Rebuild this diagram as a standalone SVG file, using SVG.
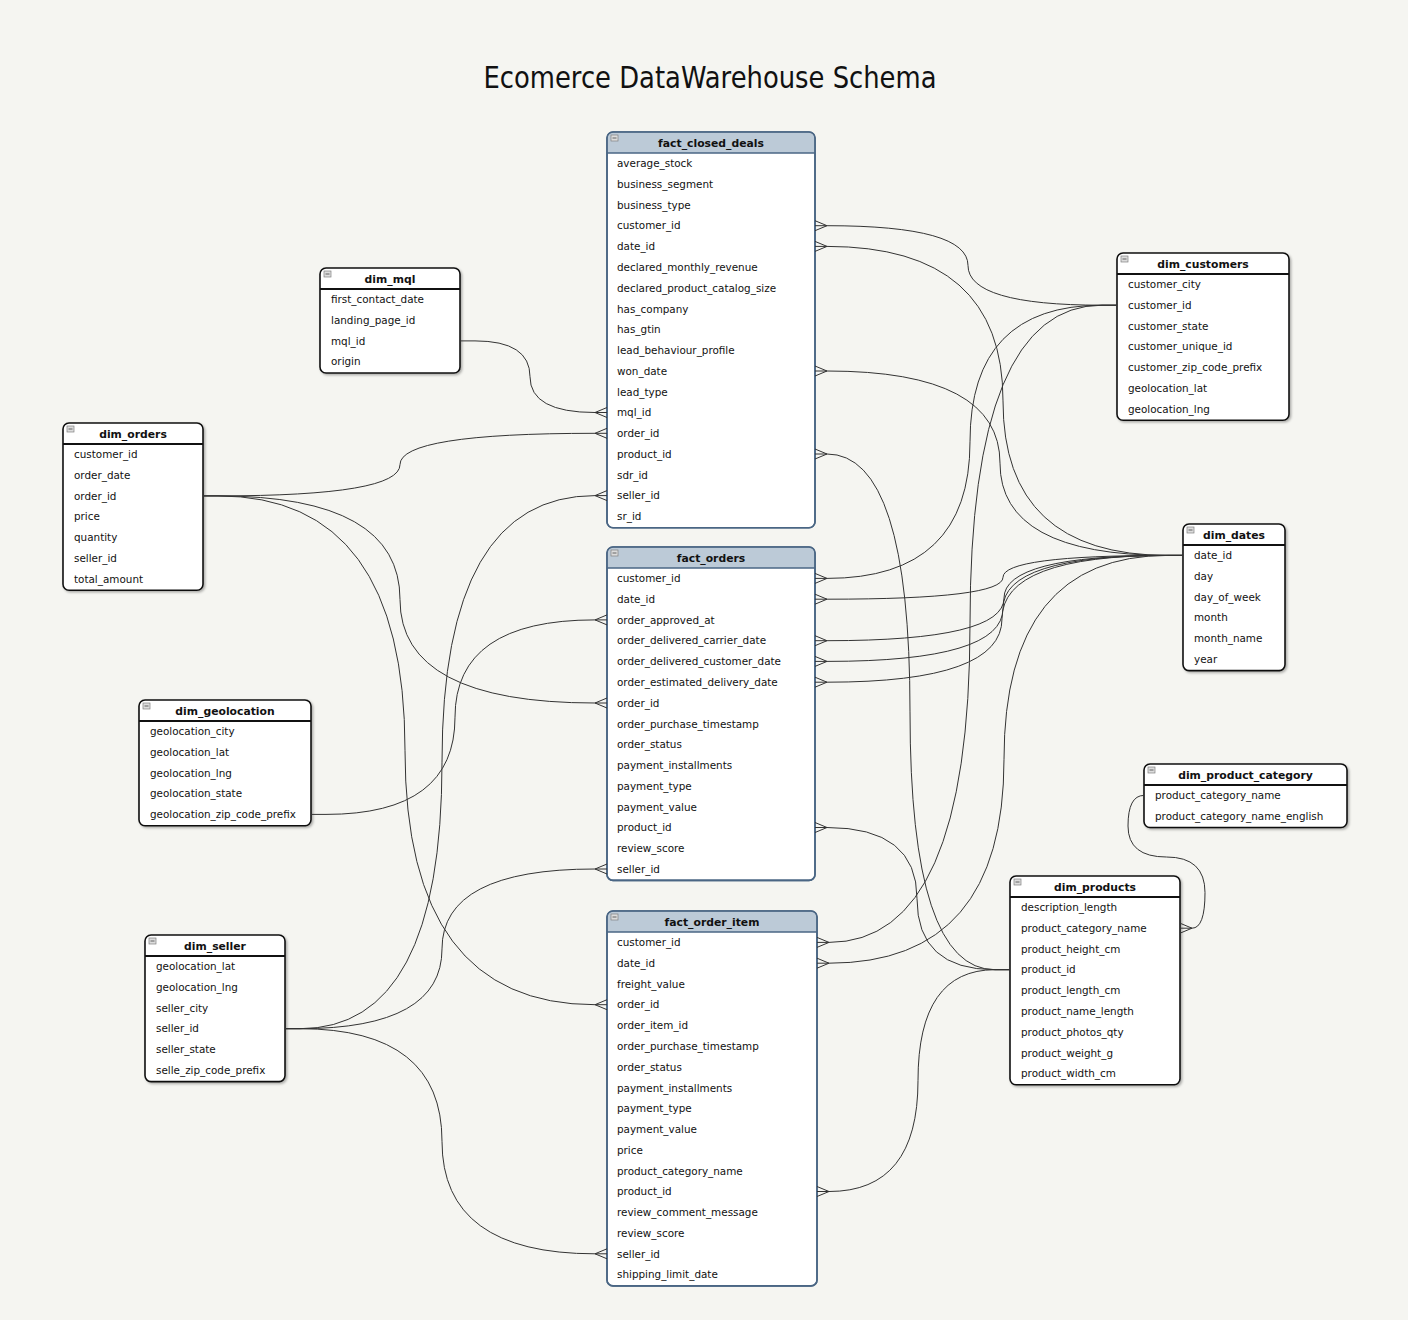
<svg xmlns="http://www.w3.org/2000/svg" width="1408" height="1320" viewBox="0 0 1408 1320">
<defs>
<style>
.bg{fill:#f5f5f1}
.title{font-family:"DejaVu Sans","Liberation Sans",sans-serif;font-size:30px;fill:#111}
.t{font-family:"DejaVu Sans",Verdana,sans-serif;font-size:10.4px;fill:#111}
.th{font-family:"DejaVu Sans",Verdana,sans-serif;font-size:10.8px;font-weight:bold;fill:#111;text-anchor:middle}
.db{fill:#fff;stroke:#111;stroke-width:1.6}
.dl{stroke:#111;stroke-width:2}
.fb{fill:#fff;stroke:#4a6684;stroke-width:1.6}
.fo{fill:none;stroke:#4a6684;stroke-width:1.6}
.fh{fill:#bccad7}
.fl{stroke:#4a6684;stroke-width:1.6}
.mi{fill:#dcdcdc;stroke:#808080;stroke-width:0.7}
.mil{stroke:#555;stroke-width:0.9}
.c{fill:none;stroke:#333;stroke-width:1}
</style>
<filter id="sh" x="-5%" y="-5%" width="115%" height="115%">
<feDropShadow dx="1.5" dy="1.5" stdDeviation="1" flood-color="#000" flood-opacity="0.3"/>
</filter>
</defs>
<rect class="bg" x="0" y="0" width="1408" height="1320"/>
<text class="title" x="710" y="88" text-anchor="middle" textLength="453" lengthAdjust="spacingAndGlyphs">Ecomerce DataWarehouse Schema</text>

<g id="fact_closed_deals" transform="translate(607,132)">
<rect class="fb" width="208" height="395.7" rx="6"/>
<path class="fh" d="M0.8,21V6Q0.8,0.8 6,0.8H202Q207.2,0.8 207.2,6V21Z"/>
<rect class="fo" width="208" height="395.7" rx="6"/>
<line class="fl" x1="0" y1="21" x2="208" y2="21"/>
<rect class="mi" x="4" y="3" width="7" height="6"/><line class="mil" x1="5.5" y1="6" x2="9.5" y2="6"/>
<text class="th" x="104" y="14.6">fact_closed_deals</text>
<text class="t" x="10" y="35.2">average_stock</text>
<text class="t" x="10" y="55.96">business_segment</text>
<text class="t" x="10" y="76.72">business_type</text>
<text class="t" x="10" y="97.48">customer_id</text>
<text class="t" x="10" y="118.24">date_id</text>
<text class="t" x="10" y="139">declared_monthly_revenue</text>
<text class="t" x="10" y="159.76">declared_product_catalog_size</text>
<text class="t" x="10" y="180.52">has_company</text>
<text class="t" x="10" y="201.28">has_gtin</text>
<text class="t" x="10" y="222.04">lead_behaviour_profile</text>
<text class="t" x="10" y="242.8">won_date</text>
<text class="t" x="10" y="263.56">lead_type</text>
<text class="t" x="10" y="284.32">mql_id</text>
<text class="t" x="10" y="305.08">order_id</text>
<text class="t" x="10" y="325.84">product_id</text>
<text class="t" x="10" y="346.6">sdr_id</text>
<text class="t" x="10" y="367.36">seller_id</text>
<text class="t" x="10" y="388.12">sr_id</text>
</g>

<g id="fact_orders" transform="translate(607,547)">
<rect class="fb" width="208" height="333.4" rx="6"/>
<path class="fh" d="M0.8,21V6Q0.8,0.8 6,0.8H202Q207.2,0.8 207.2,6V21Z"/>
<rect class="fo" width="208" height="333.4" rx="6"/>
<line class="fl" x1="0" y1="21" x2="208" y2="21"/>
<rect class="mi" x="4" y="3" width="7" height="6"/><line class="mil" x1="5.5" y1="6" x2="9.5" y2="6"/>
<text class="th" x="104" y="14.6">fact_orders</text>
<text class="t" x="10" y="35.2">customer_id</text>
<text class="t" x="10" y="55.96">date_id</text>
<text class="t" x="10" y="76.72">order_approved_at</text>
<text class="t" x="10" y="97.48">order_delivered_carrier_date</text>
<text class="t" x="10" y="118.24">order_delivered_customer_date</text>
<text class="t" x="10" y="139">order_estimated_delivery_date</text>
<text class="t" x="10" y="159.76">order_id</text>
<text class="t" x="10" y="180.52">order_purchase_timestamp</text>
<text class="t" x="10" y="201.28">order_status</text>
<text class="t" x="10" y="222.04">payment_installments</text>
<text class="t" x="10" y="242.8">payment_type</text>
<text class="t" x="10" y="263.56">payment_value</text>
<text class="t" x="10" y="284.32">product_id</text>
<text class="t" x="10" y="305.08">review_score</text>
<text class="t" x="10" y="325.84">seller_id</text>
</g>

<g id="fact_order_item" transform="translate(607,911)">
<rect class="fb" width="210" height="374.9" rx="6"/>
<path class="fh" d="M0.8,21V6Q0.8,0.8 6,0.8H204Q209.2,0.8 209.2,6V21Z"/>
<rect class="fo" width="210" height="374.9" rx="6"/>
<line class="fl" x1="0" y1="21" x2="210" y2="21"/>
<rect class="mi" x="4" y="3" width="7" height="6"/><line class="mil" x1="5.5" y1="6" x2="9.5" y2="6"/>
<text class="th" x="105" y="14.6">fact_order_item</text>
<text class="t" x="10" y="35.2">customer_id</text>
<text class="t" x="10" y="55.96">date_id</text>
<text class="t" x="10" y="76.72">freight_value</text>
<text class="t" x="10" y="97.48">order_id</text>
<text class="t" x="10" y="118.24">order_item_id</text>
<text class="t" x="10" y="139">order_purchase_timestamp</text>
<text class="t" x="10" y="159.76">order_status</text>
<text class="t" x="10" y="180.52">payment_installments</text>
<text class="t" x="10" y="201.28">payment_type</text>
<text class="t" x="10" y="222.04">payment_value</text>
<text class="t" x="10" y="242.8">price</text>
<text class="t" x="10" y="263.56">product_category_name</text>
<text class="t" x="10" y="284.32">product_id</text>
<text class="t" x="10" y="305.08">review_comment_message</text>
<text class="t" x="10" y="325.84">review_score</text>
<text class="t" x="10" y="346.6">seller_id</text>
<text class="t" x="10" y="367.36">shipping_limit_date</text>
</g>

<g id="dim_mql" transform="translate(320,268)">
<rect class="db" width="140" height="105" rx="6" filter="url(#sh)"/>
<line class="dl" x1="0" y1="21" x2="140" y2="21"/>
<rect class="mi" x="4" y="3" width="7" height="6"/><line class="mil" x1="5.5" y1="6" x2="9.5" y2="6"/>
<text class="th" x="70" y="14.6">dim_mql</text>
<text class="t" x="11" y="35.2">first_contact_date</text>
<text class="t" x="11" y="55.96">landing_page_id</text>
<text class="t" x="11" y="76.72">mql_id</text>
<text class="t" x="11" y="97.48">origin</text>
</g>

<g id="dim_orders" transform="translate(63,423)">
<rect class="db" width="140" height="167.3" rx="6" filter="url(#sh)"/>
<line class="dl" x1="0" y1="21" x2="140" y2="21"/>
<rect class="mi" x="4" y="3" width="7" height="6"/><line class="mil" x1="5.5" y1="6" x2="9.5" y2="6"/>
<text class="th" x="70" y="14.6">dim_orders</text>
<text class="t" x="11" y="35.2">customer_id</text>
<text class="t" x="11" y="55.96">order_date</text>
<text class="t" x="11" y="76.72">order_id</text>
<text class="t" x="11" y="97.48">price</text>
<text class="t" x="11" y="118.24">quantity</text>
<text class="t" x="11" y="139">seller_id</text>
<text class="t" x="11" y="159.76">total_amount</text>
</g>

<g id="dim_geolocation" transform="translate(139,700)">
<rect class="db" width="172" height="125.8" rx="6" filter="url(#sh)"/>
<line class="dl" x1="0" y1="21" x2="172" y2="21"/>
<rect class="mi" x="4" y="3" width="7" height="6"/><line class="mil" x1="5.5" y1="6" x2="9.5" y2="6"/>
<text class="th" x="86" y="14.6">dim_geolocation</text>
<text class="t" x="11" y="35.2">geolocation_city</text>
<text class="t" x="11" y="55.96">geolocation_lat</text>
<text class="t" x="11" y="76.72">geolocation_lng</text>
<text class="t" x="11" y="97.48">geolocation_state</text>
<text class="t" x="11" y="118.24">geolocation_zip_code_prefix</text>
</g>

<g id="dim_seller" transform="translate(145,935)">
<rect class="db" width="140" height="146.6" rx="6" filter="url(#sh)"/>
<line class="dl" x1="0" y1="21" x2="140" y2="21"/>
<rect class="mi" x="4" y="3" width="7" height="6"/><line class="mil" x1="5.5" y1="6" x2="9.5" y2="6"/>
<text class="th" x="70" y="14.6">dim_seller</text>
<text class="t" x="11" y="35.2">geolocation_lat</text>
<text class="t" x="11" y="55.96">geolocation_lng</text>
<text class="t" x="11" y="76.72">seller_city</text>
<text class="t" x="11" y="97.48">seller_id</text>
<text class="t" x="11" y="118.24">seller_state</text>
<text class="t" x="11" y="139">selle_zip_code_prefix</text>
</g>

<g id="dim_customers" transform="translate(1117,253)">
<rect class="db" width="172" height="167.3" rx="6" filter="url(#sh)"/>
<line class="dl" x1="0" y1="21" x2="172" y2="21"/>
<rect class="mi" x="4" y="3" width="7" height="6"/><line class="mil" x1="5.5" y1="6" x2="9.5" y2="6"/>
<text class="th" x="86" y="14.6">dim_customers</text>
<text class="t" x="11" y="35.2">customer_city</text>
<text class="t" x="11" y="55.96">customer_id</text>
<text class="t" x="11" y="76.72">customer_state</text>
<text class="t" x="11" y="97.48">customer_unique_id</text>
<text class="t" x="11" y="118.24">customer_zip_code_prefix</text>
<text class="t" x="11" y="139">geolocation_lat</text>
<text class="t" x="11" y="159.76">geolocation_lng</text>
</g>

<g id="dim_dates" transform="translate(1183,524)">
<rect class="db" width="102" height="146.6" rx="6" filter="url(#sh)"/>
<line class="dl" x1="0" y1="21" x2="102" y2="21"/>
<rect class="mi" x="4" y="3" width="7" height="6"/><line class="mil" x1="5.5" y1="6" x2="9.5" y2="6"/>
<text class="th" x="51" y="14.6">dim_dates</text>
<text class="t" x="11" y="35.2">date_id</text>
<text class="t" x="11" y="55.96">day</text>
<text class="t" x="11" y="76.72">day_of_week</text>
<text class="t" x="11" y="97.48">month</text>
<text class="t" x="11" y="118.24">month_name</text>
<text class="t" x="11" y="139">year</text>
</g>

<g id="dim_product_category" transform="translate(1144,764)">
<rect class="db" width="203" height="63.5" rx="6" filter="url(#sh)"/>
<line class="dl" x1="0" y1="21" x2="203" y2="21"/>
<rect class="mi" x="4" y="3" width="7" height="6"/><line class="mil" x1="5.5" y1="6" x2="9.5" y2="6"/>
<text class="th" x="101.5" y="14.6">dim_product_category</text>
<text class="t" x="11" y="35.2">product_category_name</text>
<text class="t" x="11" y="55.96">product_category_name_english</text>
</g>

<g id="dim_products" transform="translate(1010,876)">
<rect class="db" width="170" height="208.8" rx="6" filter="url(#sh)"/>
<line class="dl" x1="0" y1="21" x2="170" y2="21"/>
<rect class="mi" x="4" y="3" width="7" height="6"/><line class="mil" x1="5.5" y1="6" x2="9.5" y2="6"/>
<text class="th" x="85" y="14.6">dim_products</text>
<text class="t" x="11" y="35.2">description_length</text>
<text class="t" x="11" y="55.96">product_category_name</text>
<text class="t" x="11" y="76.72">product_height_cm</text>
<text class="t" x="11" y="97.48">product_id</text>
<text class="t" x="11" y="118.24">product_length_cm</text>
<text class="t" x="11" y="139">product_name_length</text>
<text class="t" x="11" y="159.76">product_photos_qty</text>
<text class="t" x="11" y="180.52">product_weight_g</text>
<text class="t" x="11" y="201.28">product_width_cm</text>
</g>

<g id="connectors">
<path class="c" d="M827,225.7 Q968,225.7 968,265.5 Q968,305.2 1102,305.2 H1117"/>
<path class="c" d="M827,246.4 Q1003,246.4 1003,400.9 Q1003,555.4 1168,555.4 H1183"/>
<path class="c" d="M827,371 Q1000,371 1000,463.2 Q1000,555.4 1168,555.4 H1183"/>
<path class="c" d="M827,454 Q910,454 910,711.9 Q910,969.7 995,969.7 H1010"/>
<path class="c" d="M827,578.4 Q970,578.4 970,441.8 Q970,305.2 1102,305.2 H1117"/>
<path class="c" d="M827,599.2 Q1003,599.2 1003,577.3 Q1003,555.4 1168,555.4 H1183"/>
<path class="c" d="M827,640.7 Q1004,640.7 1004,598.1 Q1004,555.4 1168,555.4 H1183"/>
<path class="c" d="M827,661.4 Q1003,661.4 1003,608.4 Q1003,555.4 1168,555.4 H1183"/>
<path class="c" d="M827,682.2 Q1002,682.2 1002,618.8 Q1002,555.4 1168,555.4 H1183"/>
<path class="c" d="M827,827.5 Q917,827.5 917,898.6 Q917,969.7 995,969.7 H1010"/>
<path class="c" d="M829,942.4 Q970,942.4 970,623.8 Q970,305.2 1102,305.2 H1117"/>
<path class="c" d="M829,963.2 Q1004,963.2 1004,759.3 Q1004,555.4 1168,555.4 H1183"/>
<path class="c" d="M829,1191.5 Q918,1191.5 918,1080.6 Q918,969.7 995,969.7 H1010"/>
<path class="c" d="M595,412.5 Q530,412.5 530,376.7 Q530,340.9 475,340.9 H460"/>
<path class="c" d="M595,433.3 Q400,433.3 400,464.6 Q400,495.9 218,495.9 H203"/>
<path class="c" d="M595,703 Q400,703 400,599.5 Q400,495.9 218,495.9 H203"/>
<path class="c" d="M595,1004.7 Q405,1004.7 405,750.3 Q405,495.9 218,495.9 H203"/>
<path class="c" d="M595,495.6 Q442,495.6 442,762.2 Q442,1028.7 300,1028.7 H285"/>
<path class="c" d="M595,869 Q442,869 442,948.9 Q442,1028.7 300,1028.7 H285"/>
<path class="c" d="M595,1253.8 Q442,1253.8 442,1141.3 Q442,1028.7 300,1028.7 H285"/>
<path class="c" d="M595,619.9 Q455,619.9 455,717.2 Q455,814.4 326,814.4 H311"/>
<path class="c" d="M1192,928.2 Q1205,928.2 1205,892.6 Q1205,857 1166.5,857 Q1128,857 1128,826 Q1128,795.4 1144,795.4"/>
<path class="c" d="M815,220.7 L827,225.7 L815,230.7 M815,241.4 L827,246.4 L815,251.4 M815,366 L827,371 L815,376 M815,449 L827,454 L815,459 M815,573.4 L827,578.4 L815,583.4 M815,594.2 L827,599.2 L815,604.2 M815,635.7 L827,640.7 L815,645.7 M815,656.4 L827,661.4 L815,666.4 M815,677.2 L827,682.2 L815,687.2 M815,822.5 L827,827.5 L815,832.5"/>
<path class="c" d="M817,937.4 L829,942.4 L817,947.4 M817,958.2 L829,963.2 L817,968.2 M817,1186.5 L829,1191.5 L817,1196.5 M1180,923.2 L1192,928.2 L1180,933.2"/>
<path class="c" d="M607,407.5 L595,412.5 L607,417.5 M607,428.3 L595,433.3 L607,438.3 M607,490.6 L595,495.6 L607,500.6 M607,614.9 L595,619.9 L607,624.9 M607,698 L595,703 L607,708 M607,864 L595,869 L607,874 M607,999.7 L595,1004.7 L607,1009.7 M607,1248.8 L595,1253.8 L607,1258.8"/>
<path class="c" d="M815,225.7H827M815,246.4H827M815,371H827M815,454H827M815,578.4H827M815,599.2H827M815,640.7H827M815,661.4H827M815,682.2H827M815,827.5H827M817,942.4H829M817,963.2H829M817,1191.5H829M1180,928.2H1192M607,412.5H595M607,433.3H595M607,495.6H595M607,619.9H595M607,703H595M607,869H595M607,1004.7H595M607,1253.8H595"/>
</g>
</svg>
